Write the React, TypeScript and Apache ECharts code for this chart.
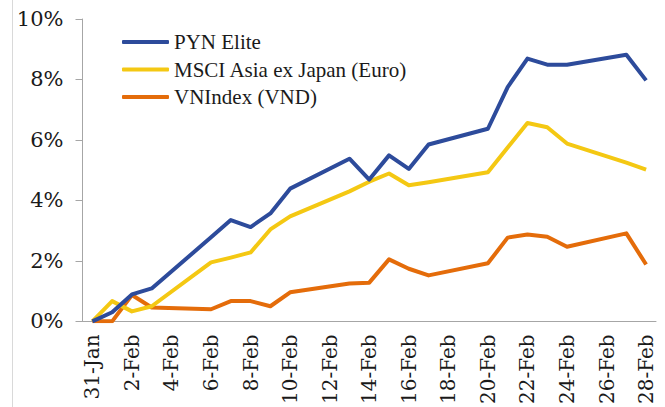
import React, { useEffect, useRef } from "react";
import * as echarts from "echarts";

const categories = [
  "31-Jan", "1-Feb", "2-Feb", "3-Feb", "4-Feb", "5-Feb", "6-Feb", "7-Feb", "8-Feb", "9-Feb",
  "10-Feb", "11-Feb", "12-Feb", "13-Feb", "14-Feb", "15-Feb", "16-Feb", "17-Feb", "18-Feb", "19-Feb",
  "20-Feb", "21-Feb", "22-Feb", "23-Feb", "24-Feb", "25-Feb", "26-Feb", "27-Feb", "28-Feb",
];

// null = non-trading day (weekend)
const pynElite = [
  0, 0.3, 0.89, 1.09, null, null, 2.78, 3.35, 3.12, 3.57,
  4.39, null, null, 5.38, 4.69, 5.49, 5.04, 5.85, null, null,
  6.37, 7.75, 8.69, 8.49, 8.49, null, null, 8.82, 7.97,
];
const msciAsia = [
  0, 0.67, 0.33, 0.5, null, null, 1.95, 2.11, 2.28, 3.04,
  3.47, null, null, 4.3, 4.62, 4.89, 4.5, 4.6, null, null,
  4.93, 5.75, 6.56, 6.42, 5.88, null, null, 5.25, 5.02,
];
const vnIndex = [
  0, 0, 0.87, 0.46, null, null, 0.4, 0.67, 0.67, 0.5,
  0.96, null, null, 1.25, 1.28, 2.05, 1.74, 1.52, null, null,
  1.92, 2.77, 2.87, 2.8, 2.47, null, null, 2.91, 1.88,
];

const seriesNames = ["PYN Elite", "MSCI Asia ex Japan (Euro)", "VNIndex (VND)"];
const colors = ["#2d4b9b", "#f4c813", "#e46c0a"];

export default function App() {
  const ref = useRef<HTMLDivElement>(null);
  useEffect(() => {
    if (!ref.current) return;
    const chart = echarts.init(ref.current, undefined, { renderer: "svg" });
    const datasets = [pynElite, msciAsia, vnIndex];
    chart.setOption({
      animation: false,
      backgroundColor: "#ffffff",
      grid: { left: 82.5, right: 9, top: 19, bottom: 85 },
      legend: {
        orient: "vertical",
        left: 122,
        top: 31,
        padding: 0,
        icon: "roundRect",
        itemWidth: 47,
        itemHeight: 4,
        itemGap: 5.5,
        data: seriesNames,
        textStyle: {
          fontFamily: "Liberation Serif",
          fontSize: 21,
          lineHeight: 22,
          color: "#1a1a1a",
        },
      },
      xAxis: {
        type: "category",
        data: categories,
        boundaryGap: true,
        axisLine: { lineStyle: { color: "#a6a6a6", width: 1 } },
        axisTick: { interval: 1, length: 7, lineStyle: { color: "#a6a6a6" } },
        axisLabel: {
          interval: 1,
          rotate: 90,
          margin: 13,
          fontFamily: "DejaVu Serif",
          fontSize: 20,
          color: "#1a1a1a",
        },
        splitLine: { show: false },
      },
      yAxis: {
        type: "value",
        min: 0,
        max: 10,
        interval: 2,
        axisLine: { show: true, lineStyle: { color: "#a6a6a6", width: 1 } },
        axisTick: { show: true, length: 7, lineStyle: { color: "#a6a6a6" } },
        axisLabel: {
          formatter: "{value}%",
          margin: 19,
          fontFamily: "DejaVu Serif",
          fontSize: 21,
          color: "#1a1a1a",
        },
        splitLine: { show: false },
      },
      graphic: [
        {
          type: "line",
          shape: { x1: 12.5, y1: 0, x2: 12.5, y2: 407 },
          style: { stroke: "#d9d9d9", lineWidth: 1 },
        },
      ],
      series: seriesNames.map((name, i) => ({
        name,
        type: "line",
        data: datasets[i],
        connectNulls: true,
        showSymbol: false,
        symbol: "none",
        z: 3 - i,
        lineStyle: { color: colors[i], width: 4, join: "round" },
        itemStyle: { color: colors[i] },
      })),
    });
    return () => chart.dispose();
  }, []);
  return (
    <div
      ref={ref}
      style={{ position: "fixed", left: 0, top: 0, width: 665, height: 407 }}
    />
  );
}
